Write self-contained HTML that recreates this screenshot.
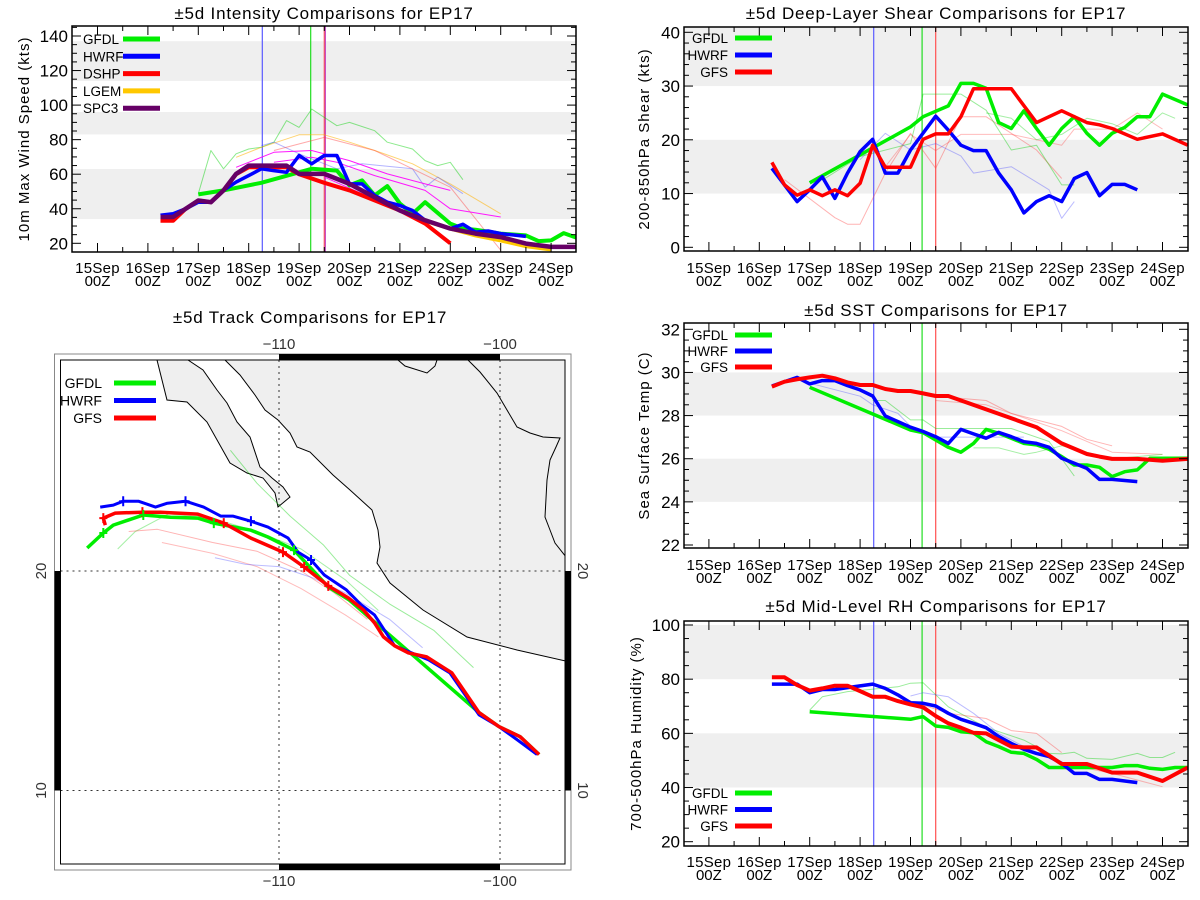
<!DOCTYPE html>
<html><head><meta charset="utf-8"><title>EP17 comparisons</title>
<style>
html,body{margin:0;padding:0;background:#fff;}
svg{display:block;font-family:"Liberation Sans",sans-serif;}
</style></head>
<body>
<svg id="root" width="1200" height="900" viewBox="0 0 1200 900" xmlns="http://www.w3.org/2000/svg">
<rect x="0" y="0" width="1200" height="900" fill="#fff"/>
<g id="gInt"></g>
<g id="gShear"></g>
<g id="gSST"></g>
<g id="gRH"></g>
<g id="gMap"></g>
</svg>
<script>
// ---------- shared axis data ----------
const dayLabels = ["15Sep","16Sep","17Sep","18Sep","19Sep","20Sep","21Sep","22Sep","23Sep","24Sep"];
const initLines = [3.27, 4.23, 4.5];

// ---------- intensity (kt) ----------
const intTicks = [20,40,60,80,100,120,140];
const intBands = [[34,63],[83,96],[114,137]];
const intGFDL = [[2.0,48.3],[2.5,50.6],[3.25,55],[4.25,63.1],[4.75,62.1],[5.0,53.5],[5.25,56.4],[5.5,47.7],[5.75,53.1],[6.0,43],[6.25,37.1],[6.5,43.8],[7.0,31.4],[7.25,28.5],[7.5,27.9],[8.0,25.6],[8.5,24.6],[8.75,21.3],[9.0,21.7],[9.25,25.9],[9.5,23.3]];
const intHWRF = [[1.25,36.2],[1.5,37.1],[1.75,40],[2.0,43.8],[2.25,43.8],[2.5,50.6],[2.75,55.4],[3.0,59.2],[3.25,63.1],[3.5,62.1],[3.75,61.1],[4.0,70.8],[4.25,66],[4.5,70.8],[4.75,70.8],[5.0,54.4],[5.25,54.4],[5.5,47.7],[5.75,43.8],[6.0,41.9],[6.25,39],[6.5,33.3],[7.0,28.5],[7.25,31],[7.5,26.5],[7.75,27.1],[8.0,25.6],[8.5,24]];
const intDSHP = [[1.25,33],[1.5,33],[1.75,40],[2.0,44.8],[2.25,43.8],[2.5,50.6],[2.75,60],[3.0,64],[3.75,64],[4.0,60],[4.5,55],[5.0,50.6],[6.0,39],[6.5,31.4],[7.0,20]];
const intLGEM = [[5.5,47],[6.0,39],[6.5,33],[7.0,28.5],[7.5,24.6],[8.0,21.7],[8.5,18.3],[9.0,16.4]];
const intSPC3 = [[1.25,35.2],[1.5,35.2],[1.75,40],[2.0,44.8],[2.25,43.8],[2.5,50.6],[2.75,60.2],[3.0,65],[3.75,65],[4.0,60.2],[4.5,60.2],[5.0,54.4],[5.5,46.7],[6.0,39],[6.5,33.3],[7.0,28.5],[7.5,25.6],[8.0,23.6],[8.5,19.8],[9.0,17.9],[9.5,17.9]];
const intThinGreen = [[2.0,48.7],[2.25,73.7],[2.5,63.1],[2.75,71.8],[3.0,74.6],[3.25,75.6],[3.5,78.5],[3.75,91],[4.0,87.1],[4.25,97.7],[4.5,92.9],[4.75,88.1],[5.0,90],[5.5,85.2],[5.75,78.5],[6.25,74.6],[6.5,67.9],[6.75,65],[7.0,66.9],[7.25,56.8]];
const intThinYellow = [[2.75,69.8],[3.25,75.6],[4.0,82.8],[4.5,82.8],[5.0,78.5],[5.5,73.7],[6.25,66],[7.0,54.4],[8.0,37.1]];
const intThinMag1 = [[2.75,64],[3.5,72.7],[4.25,73.7],[5.0,67.9],[5.75,60.2],[6.5,54.4],[7.0,50.6]];
const intThinMag2 = [[3.5,66.9],[4.25,69.8],[4.75,66.9],[5.5,59.2],[6.5,50.6],[7.0,40],[8.0,35.2]];
const intThinMag3 = [[4.5,58.3],[5.25,48.7],[6.0,39],[7.0,28.5]];
const intThinBlue = [[3.25,76.5],[3.5,78.5],[4.0,71.8],[4.75,63.1],[5.25,66],[6.25,63.1],[6.5,52.5],[6.75,58.3],[7.25,48.7]];
const intThinPink = [[3.5,73.7],[4.5,81.3],[5.5,73.7],[6.25,63.1],[7.0,52.5],[8.0,16]];

// ---------- shear (kt) ----------
const shTicks = [0,10,20,30,40];
const shBands = [[10,20],[30,45]];
const shGFDL = [[2.0,12],[4.0,22.4],[4.25,24.3],[4.75,26.3],[5.0,30.5],[5.25,30.5],[5.5,29.6],[5.75,23.2],[6.0,22.1],[6.25,25.4],[6.5,22.1],[6.75,19],[7.0,22.1],[7.25,24.3],[7.5,21.2],[7.75,19],[8.0,21.2],[8.25,22.3],[8.5,24.3],[8.75,24.3],[9.0,28.5],[9.5,26.5]];
const shHWRF = [[1.25,14.7],[1.5,11.6],[1.75,8.5],[2.0,10.7],[2.25,13.1],[2.5,9.1],[2.75,13.8],[3.0,17.8],[3.25,20.1],[3.5,13.8],[3.75,13.8],[4.0,18.1],[4.5,24.4],[4.75,21.8],[5.0,19],[5.25,18],[5.5,18],[5.75,13.8],[6.0,10.7],[6.25,6.4],[6.5,8.5],[6.75,9.6],[7.0,8.5],[7.25,12.8],[7.5,13.9],[7.75,9.6],[8.0,11.7],[8.25,11.7],[8.5,10.7]];
const shGFS = [[1.25,15.8],[1.5,11.6],[1.75,9.7],[2.0,10.7],[2.25,9.6],[2.5,10.7],[2.75,9.6],[3.0,11.9],[3.25,19],[3.5,14.9],[3.75,14.9],[4.0,14.9],[4.25,20.1],[4.5,21.1],[4.75,21.1],[5.0,24.3],[5.25,29.5],[5.5,29.5],[5.75,29.5],[6.0,29.5],[6.5,23.2],[7.0,25.4],[7.25,24.3],[7.5,23.2],[7.75,22.8],[8.0,22.1],[8.5,20.1],[9.0,21.1],[9.5,19]];
const shThinPink = [[1.5,12.6],[2.5,5.5],[2.75,4.3],[3.0,4.3],[3.5,13.8],[4.0,21.2],[4.5,14.7],[5.0,24.3],[5.5,24.3],[6.5,18.1],[7.0,12.8]];
const shThinPink2 = [[3.5,15],[4.0,21],[4.5,18],[5.0,21],[6.0,21],[7.0,19],[7.25,22],[8.0,22],[8.5,25],[9.0,22]];
const shThinGreen = [[2.25,12.5],[3.0,16.9],[4.0,19.3],[4.25,28.5],[5.0,28.5],[5.5,25.5],[6.0,18.1],[6.5,19],[7.0,11.6],[7.25,11.6]];
const shThinGreen2 = [[5.5,25],[6.0,24],[6.5,20],[7.0,21],[7.5,24],[8.0,23],[8.5,21],[9.0,25],[9.25,24]];
const shThinBlue = [[3.0,16.3],[3.5,21.2],[4.0,18.1],[4.5,19.3],[5.0,17],[5.25,13.8],[6.0,15],[6.75,10.7],[7.0,5.4],[7.25,8.5]];

// ---------- SST (C) ----------
const sstTicks = [22,24,26,28,30,32];
const sstBands = [[24,26],[28,30]];
const sstGFDL = [[2.0,29.31],[4.0,27.33],[4.25,27.21],[4.5,26.87],[4.75,26.53],[5.0,26.3],[5.25,26.71],[5.5,27.36],[5.75,27.18],[6.0,26.95],[6.25,26.71],[6.5,26.64],[6.75,26.44],[7.0,26.1],[7.25,25.71],[7.5,25.71],[7.75,25.6],[8.0,25.17],[8.25,25.4],[8.5,25.48],[8.75,26.02],[9.0,26.02],[9.5,26.02]];
const sstHWRF = [[1.25,29.37],[1.75,29.77],[2.0,29.47],[2.25,29.62],[2.5,29.62],[2.75,29.39],[3.0,29.19],[3.25,28.91],[3.5,27.98],[3.75,27.72],[4.0,27.46],[4.25,27.26],[4.5,27.02],[4.75,26.71],[5.0,27.36],[5.25,27.15],[5.5,26.95],[5.75,27.22],[6.0,27.02],[6.25,26.79],[6.5,26.71],[6.75,26.53],[7.0,26.02],[7.25,25.79],[7.5,25.55],[7.75,25.04],[8.0,25.04],[8.5,24.94]];
const sstGFS = [[1.25,29.34],[1.5,29.57],[1.75,29.68],[2.0,29.77],[2.25,29.85],[2.5,29.73],[2.75,29.54],[3.0,29.42],[3.25,29.42],[3.5,29.23],[3.75,29.14],[4.0,29.14],[4.25,29.03],[4.5,28.91],[4.75,28.91],[6.5,27.46],[7.0,26.71],[7.5,26.22],[7.75,26.1],[8.0,25.99],[8.5,25.99],[9.0,25.91],[9.5,25.99]];
const sstThinPink = [[4.5,28.9],[5.5,28.7],[6.0,28.1],[7.0,27.5],[7.5,26.9],[8.0,26.6]];
const sstThinPink2 = [[4.5,28.7],[5.5,28.5],[7.0,27.3],[8.0,26.3],[9.0,26.2]];
const sstThinGreen = [[3.25,28.7],[3.5,28.7],[4.0,27.8],[4.25,27.8],[4.5,27.4],[5.0,27.4],[6.0,27.4],[6.75,26.8],[7.25,25.2]];
const sstThinGreen2 = [[5.25,26.5],[5.75,26.5],[6.25,26.2],[6.5,26.3],[7.0,26.6],[8.0,26.0],[9.0,26.2]];
const sstThinBlue = [[2.0,29.5],[2.5,29.2],[3.0,28.9],[3.25,28.5],[3.75,28.1],[4.0,27.5],[4.5,27.0],[5.0,27.0],[6.25,27.0]];

// ---------- RH (%) ----------
const rhTicks = [20,40,60,80,100];
const rhBands = [[40,60],[80,100]];
const rhGFDL = [[2.0,68],[4.0,65.2],[4.25,66.2],[4.5,62.7],[4.75,62.2],[5.0,60.6],[5.25,60.2],[5.5,56.9],[5.75,55.1],[6.0,53],[6.25,52.6],[6.5,50.4],[6.75,47.4],[7.0,47.4],[7.5,47.4],[8.0,47.4],[8.25,48.1],[8.5,48.1],[8.75,47.1],[9.0,46.7],[9.25,47.4],[9.5,47.4]];
const rhHWRF = [[1.25,78.2],[1.75,78.2],[2.0,75],[2.25,76.2],[2.5,76.2],[2.75,76.9],[3.0,77.5],[3.25,78.2],[3.5,76.6],[3.75,74.2],[4.0,71.3],[4.25,71.1],[4.5,70.1],[4.75,67.4],[5.0,65.2],[5.25,63.7],[5.5,62.1],[5.75,58.8],[6.0,56.3],[6.25,54.1],[6.5,52.6],[6.75,51.4],[7.0,48.9],[7.25,45.2],[7.5,45.2],[7.75,43],[8.0,43],[8.5,41.8]];
const rhGFS = [[1.25,80.7],[1.5,80.7],[1.75,77.8],[2.0,75.8],[2.25,76.6],[2.5,77.6],[2.75,77.6],[3.0,75.6],[3.25,73.5],[3.5,73.5],[3.75,71.9],[4.0,70.7],[4.25,69.6],[4.5,66.4],[4.75,63.7],[5.0,62.1],[5.25,60.2],[5.5,60],[5.75,57.5],[6.0,55.1],[6.25,54.8],[6.5,54.8],[6.75,51.8],[7.0,48.7],[7.5,48.7],[7.75,47.1],[8.0,45.5],[8.5,45.5],[9.0,42.4],[9.5,47.4]];
const rhThinGreen = [[2.0,68.6],[2.25,73.5],[2.75,75.4],[3.75,77.2],[4.0,78.5],[4.25,78.7],[4.75,69.8],[5.5,62.2],[6.25,57.5],[6.75,52.6],[7.0,52.4],[7.25,53],[7.5,50.8],[8.0,50.4],[8.5,52.6],[8.75,51.1],[9.0,51.1],[9.25,53]];
const rhThinBlue = [[4.0,73.8],[4.25,75],[4.75,73.5],[5.25,67.4],[5.75,60],[6.25,55.1]];
const rhThinPink = [[3.75,73.5],[4.75,67.4],[5.5,65.5],[6.0,61],[6.5,60],[7.0,52.9]];
const rhThinPink2 = [[7.0,48.9],[8.0,45.2],[9.0,40.3]];

// ---------- track (lon, lat) ----------
const trkGFDL = [[-118.68,21.05],[-117.95,21.73],[-117.5,22.09],[-116.14,22.55],[-114.91,22.45],[-113.68,22.41],[-112.95,22.18],[-111.27,21.86],[-110.5,21.55],[-109.32,20.95],[-107.77,19.27],[-106.82,18.68],[-100.95,13.55],[-100.05,12.91],[-99.09,12.45],[-98.23,11.64]];
const trkHWRF = [[-118.09,22.91],[-117.5,23.0],[-117.05,23.18],[-116.36,23.18],[-115.59,22.91],[-115.05,23.09],[-114.23,23.18],[-113.41,22.91],[-112.64,22.5],[-112.09,22.5],[-111.27,22.27],[-110.5,22.0],[-109.59,21.5],[-109.14,20.86],[-108.55,20.5],[-107.95,19.82],[-106.95,19.14],[-106.27,18.45],[-105.68,18.0],[-104.77,16.59],[-104.0,16.27],[-103.23,15.95],[-102.27,15.36],[-100.95,13.45],[-100.05,12.91],[-99.23,12.32],[-98.32,11.64]];
const trkGFS = [[-117.86,22.09],[-117.95,22.41],[-117.41,22.64],[-116.18,22.68],[-115.36,22.68],[-113.68,22.59],[-112.5,22.18],[-111.27,21.5],[-109.82,20.86],[-108.86,20.18],[-107.77,19.32],[-106.86,18.77],[-106.18,18.23],[-105.68,17.64],[-105.27,17.0],[-104.77,16.59],[-104.14,16.27],[-103.32,16.09],[-102.18,15.36],[-100.95,13.55],[-100.05,12.91],[-99.09,12.45],[-98.23,11.64]];
const trkThinGreen = [[-112.2,25.5],[-111.0,24.0],[-109.5,22.5],[-108.0,21.2],[-106.8,19.8],[-105.0,18.5],[-103.0,17.3],[-101.2,15.6]];
const trkThinGreen2 = [[-117.3,21.0],[-116.5,21.8],[-115.0,22.6],[-113.0,22.4],[-111.0,21.8],[-109.0,21.0],[-107.0,19.6],[-105.5,18.2]];
const trkThinPink = [[-116.8,21.8],[-115.5,21.9],[-113.0,21.3],[-111.0,20.9],[-109.0,20.0],[-107.5,19.0],[-106.0,17.8]];
const trkThinPink2 = [[-115.3,21.3],[-113.0,20.8],[-111.0,20.2],[-109.0,19.2],[-107.0,18.0],[-105.5,17.0]];
const trkThinBlue = [[-112.9,20.6],[-111.5,20.3],[-110.0,20.2],[-108.5,19.7],[-107.0,19.0],[-105.0,17.8],[-103.5,16.5]];

// ---------- helpers ----------
const NS = "http://www.w3.org/2000/svg";
function mk(parent, tag, attrs){
  const e = document.createElementNS(NS, tag);
  for (const k in attrs) e.setAttribute(k, attrs[k]);
  parent.appendChild(e);
  return e;
}
let clipId = 0;

function drawPanel(g, cfg){
  const xs = d => cfg.x0 + d*50.4;
  const k = (cfg.yB - cfg.yA)/(cfg.vB - cfg.vA);
  const ys = v => cfg.yA + (v - cfg.vA)*k;
  const L=cfg.left, R=cfg.right, T=cfg.top, B=cfg.bottom;
  const t = mk(g,'text',{x:(L+R)/2, y:cfg.titleY, 'text-anchor':'middle','font-size':17,'letter-spacing':'0.8',fill:'#000'});
  t.textContent = cfg.title;
  
  
  const cid = 'clip'+(clipId++);
  const cp = mk(g,'clipPath',{id:cid});
  mk(cp,'rect',{x:L,y:T,width:R-L,height:B-T});
  cfg.bands.forEach((b,i)=>{
    const y1 = Math.max(T, ys(b[1])), y2 = Math.min(B, ys(b[0]));
    const r = mk(g,'rect',{x:L,y:y1,width:R-L,height:y2-y1,fill:'#efefef'});
    
    
  });
  const plot = mk(g,'g',{'clip-path':'url(#'+cid+')'});
  const vcols = ['#5a5aff','#22dd22','#ff5050'];
  initLines.forEach((d,i)=>{
    const l = mk(plot,'line',{x1:xs(d),x2:xs(d),y1:T,y2:B,stroke:vcols[i],'stroke-width':1.2});
    
    
  });
  if (cfg.extraVline){
    const l = mk(plot,'line',{x1:xs(cfg.extraVline),x2:xs(cfg.extraVline),y1:T,y2:B,stroke:'#c040c0','stroke-width':1.2});
    
    
  }
  cfg.series.forEach(s=>{
    const pts = s.data.map(p=>xs(p[0]).toFixed(1)+','+ys(p[1]).toFixed(1)).join(' ');
    const pl = mk(plot,'polyline',{points:pts,fill:'none',stroke:s.color,'stroke-width':s.w,'stroke-opacity':s.op||1,'stroke-linejoin':'round','stroke-linecap':'butt'});
    
    
  });
  const fr = mk(g,'rect',{x:L,y:T,width:R-L,height:B-T,fill:'none',stroke:'#000','stroke-width':1.5});
  
  
  for (let h=-0.5; h<=9.5001; h+=0.5){
    const x = xs(h);
    if (x < L+0.5 || x > R-0.5) continue;
    const major = Math.abs(h-Math.round(h))<1e-6;
    const len = major ? 9 : 5;
    mk(g,'line',{x1:x,x2:x,y1:B,y2:B-len,stroke:'#000','stroke-width':1});
    mk(g,'line',{x1:x,x2:x,y1:T,y2:T+len,stroke:'#000','stroke-width':1});
  }
  dayLabels.forEach((lab,i)=>{
    const x = xs(i);
    const a = mk(g,'text',{x:x,y:cfg.labY,'text-anchor':'middle','font-size':15,'letter-spacing':'0.3',fill:'#000'});
    a.textContent = lab;
    
    
    const b = mk(g,'text',{x:x,y:cfg.labY+13,'text-anchor':'middle','font-size':15,fill:'#000'});
    b.textContent = '00Z';
    
    
  });
  for (let v=cfg.minorStart; v<=cfg.vmax+1e-6; v+=cfg.minor){
    const y = ys(v);
    if (y < T+0.5 || y > B-0.5) continue;
    const major = cfg.ticks.some(tv=>Math.abs(tv-v)<1e-6);
    const len = major ? 9 : 5;
    mk(g,'line',{x1:L,x2:L+len,y1:y,y2:y,stroke:'#000','stroke-width':1});
    mk(g,'line',{x1:R,x2:R-len,y1:y,y2:y,stroke:'#000','stroke-width':1});
  }
  cfg.ticks.forEach(v=>{
    const a = mk(g,'text',{x:L-4,y:ys(v)+6,'text-anchor':'end','font-size':17,fill:'#000'});
    a.textContent = String(v);
    
    
  });
  const yt = mk(g,'text',{x:0,y:0,'text-anchor':'middle','font-size':15,'letter-spacing':'1',fill:'#000',transform:'translate('+cfg.ytX+','+((T+B)/2)+') rotate(-90)'});
  yt.textContent = cfg.ytitle;
  
  
  cfg.legend.forEach((e,i)=>{
    const y = cfg.legY + i*cfg.legDy;
    const tx = mk(g,'text',{x:cfg.legTx,y:y+5,'text-anchor':cfg.legAnchor,'font-size':13.5,fill:'#000'});
    tx.textContent = e[0];
    
    
    const ln = mk(g,'line',{x1:cfg.legX1,x2:cfg.legX2,y1:y,y2:y,stroke:e[1],'stroke-width':5});
    
    
  });
}

const G='#00ee00', B_='#0000ff', R_='#ff0000', Y_='#ffc800', P_='#660066', M_='#ff00ff';

drawPanel(document.getElementById('gInt'),{
  key:'intensity', title:'±5d Intensity Comparisons for EP17', titleY:19,
  left:72,right:576,top:26,bottom:252,x0:97.5,
  vA:140,yA:36,vB:20,yB:243.3, vmax:145, minorStart:15, minor:5, ticks:intTicks, bands:intBands,
  labY:273, ytX:29, ytitle:'10m Max Wind Speed (kts)', extraVline:4.52,
  legY:39, legDy:17.3, legTx:83, legAnchor:'start', legX1:123, legX2:160,
  legend:[['GFDL',G],['HWRF',B_],['DSHP',R_],['LGEM',Y_],['SPC3',P_]],
  series:[
    {name:'intensity-thin-green',data:intThinGreen,color:'#00d000',w:1,op:0.45},
    {name:'intensity-thin-yellow',data:intThinYellow,color:'#ffb000',w:1,op:0.55},
    {name:'intensity-thin-blue',data:intThinBlue,color:'#4040ff',w:1,op:0.4},
    {name:'intensity-thin-pink',data:intThinPink,color:'#ff4040',w:1,op:0.45},
    {name:'intensity-thin-magenta-1',data:intThinMag1,color:M_,w:1,op:0.9},
    {name:'intensity-thin-magenta-2',data:intThinMag2,color:M_,w:1,op:0.9},
    {name:'intensity-thin-magenta-3',data:intThinMag3,color:M_,w:1,op:0.9},
    {name:'intensity-gfdl-line',data:intGFDL,color:G,w:4},
    {name:'intensity-lgem-line',data:intLGEM,color:Y_,w:4},
    {name:'intensity-dshp-line',data:intDSHP,color:R_,w:4},
    {name:'intensity-hwrf-line',data:intHWRF,color:B_,w:3.5},
    {name:'intensity-spc3-line',data:intSPC3,color:P_,w:4.5}
  ]
});

drawPanel(document.getElementById('gShear'),{
  key:'shear', title:'±5d Deep-Layer Shear Comparisons for EP17', titleY:19,
  left:684,right:1188,top:27,bottom:251,x0:708.9,
  vA:40,yA:32.3,vB:0,yB:247.3, vmax:41, minorStart:0, minor:2, ticks:shTicks, bands:shBands,
  labY:273, ytX:649, ytitle:'200-850hPa Shear (kts)',
  legY:38, legDy:17, legTx:728, legAnchor:'end', legX1:735, legX2:772,
  legend:[['GFDL',G],['HWRF',B_],['GFS',R_]],
  series:[
    {name:'shear-thin-pink',data:shThinPink,color:'#ff4040',w:1,op:0.4},
    {name:'shear-thin-pink-2',data:shThinPink2,color:'#ff4040',w:1,op:0.35},
    {name:'shear-thin-green',data:shThinGreen,color:'#00d000',w:1,op:0.4},
    {name:'shear-thin-green-2',data:shThinGreen2,color:'#00d000',w:1,op:0.35},
    {name:'shear-thin-blue',data:shThinBlue,color:'#4040ff',w:1,op:0.35},
    {name:'shear-gfdl-line',data:shGFDL,color:G,w:3.5},
    {name:'shear-hwrf-line',data:shHWRF,color:B_,w:3.5},
    {name:'shear-gfs-line',data:shGFS,color:R_,w:3.5}
  ]
});

drawPanel(document.getElementById('gSST'),{
  key:'sst', title:'±5d SST Comparisons for EP17', titleY:316,
  left:684,right:1188,top:323,bottom:548,x0:708.9,
  vA:32,yA:329.3,vB:22,yB:545, vmax:32.3, minorStart:22, minor:0.5, ticks:sstTicks, bands:sstBands,
  labY:570, ytX:649, ytitle:'Sea Surface Temp (C)',
  legY:335, legDy:16, legTx:728, legAnchor:'end', legX1:735, legX2:772,
  legend:[['GFDL',G],['HWRF',B_],['GFS',R_]],
  series:[
    {name:'sst-thin-pink',data:sstThinPink,color:'#ff4040',w:1,op:0.4},
    {name:'sst-thin-pink-2',data:sstThinPink2,color:'#ff4040',w:1,op:0.35},
    {name:'sst-thin-green',data:sstThinGreen,color:'#00d000',w:1,op:0.4},
    {name:'sst-thin-green-2',data:sstThinGreen2,color:'#00d000',w:1,op:0.35},
    {name:'sst-thin-blue',data:sstThinBlue,color:'#4040ff',w:1,op:0.35},
    {name:'sst-gfdl-line',data:sstGFDL,color:G,w:3.5},
    {name:'sst-hwrf-line',data:sstHWRF,color:B_,w:3.5},
    {name:'sst-gfs-line',data:sstGFS,color:R_,w:4}
  ]
});

drawPanel(document.getElementById('gRH'),{
  key:'rh', title:'±5d Mid-Level RH Comparisons for EP17', titleY:612,
  left:684,right:1188,top:621,bottom:846,x0:708.9,
  vA:100,yA:625,vB:20,yB:841.7, vmax:101, minorStart:20, minor:5, ticks:rhTicks, bands:rhBands,
  labY:867, ytX:641, ytitle:'700-500hPa Humidity (%)',
  legY:793, legDy:16.5, legTx:728, legAnchor:'end', legX1:735, legX2:772,
  legend:[['GFDL',G],['HWRF',B_],['GFS',R_]],
  series:[
    {name:'rh-thin-green',data:rhThinGreen,color:'#00d000',w:1,op:0.4},
    {name:'rh-thin-blue',data:rhThinBlue,color:'#4040ff',w:1,op:0.35},
    {name:'rh-thin-pink',data:rhThinPink,color:'#ff4040',w:1,op:0.4},
    {name:'rh-thin-pink-2',data:rhThinPink2,color:'#ff4040',w:1,op:0.35},
    {name:'rh-gfdl-line',data:rhGFDL,color:G,w:3.5},
    {name:'rh-hwrf-line',data:rhHWRF,color:B_,w:3.5},
    {name:'rh-gfs-line',data:rhGFS,color:R_,w:4}
  ]
});

// ---------- track map ----------
(function(){
  const g = document.getElementById('gMap');
  const L=60.5,R=565,T=360,B=864;
  const lx = lon => 279 + (lon+110)*22.1;
  const ly = lat => 571 - (lat-20)*21.95;
  const t = mk(g,'text',{x:310,y:323,'text-anchor':'middle','font-size':17,'letter-spacing':'0.8',fill:'#000'});
  t.textContent = '±5d Track Comparisons for EP17';
  
  
  const cp = mk(g,'clipPath',{id:'mapclip'});
  mk(cp,'rect',{x:L,y:T,width:R-L,height:B-T});
  const m = mk(g,'g',{'clip-path':'url(#mapclip)'});
  const land = mk(m,'rect',{x:L,y:T,width:R-L,height:B-T,fill:'#efefef'});
  
  
  const bajaWest = "157,360 167,400 187,402 207,422 230,463 247,473 263,478 275,493 278,507";
  const bajaEast = "290,497 283,487 272,478 260,467 250,437 237,422 227,403 217,390 203,370 188,360";
  const mainCoast = "225,360 240,375 255,395 265,410 278,420 290,433 297,447 310,452 333,475 350,490 372,510 378,530 380,547 377,563 390,583 423,610 467,637 517,650 570,662";
  const pacific = "50,350 157,350 " + bajaWest + " " + bajaEast + " 188,350 225,350 " + mainCoast + " 575,875 50,875";
  const pw = mk(m,'polygon',{points:pacific,fill:'#ffffff',stroke:'none'});
  
  
  [bajaWest+" "+bajaEast, mainCoast,
   "468,360 480,372 497,393 507,410 517,427 530,433 543,437 560,438 556,447 550,460 547,480 545,517 550,530 555,543 566,557",
   "398,360 405,366 427,373 435,366 437,360"].forEach(s=>{
    const c = mk(m,'polyline',{points:s,fill:'none',stroke:'#000','stroke-width':1});
    
    
  });
  [-110,-100].forEach(lon=>{ mk(m,'line',{x1:lx(lon),x2:lx(lon),y1:T,y2:B,stroke:'#333','stroke-width':1,'stroke-dasharray':'2,4'}); });
  [20,10].forEach(lat=>{ mk(m,'line',{x1:L,x2:R,y1:ly(lat),y2:ly(lat),stroke:'#333','stroke-width':1,'stroke-dasharray':'2,4'}); });
  const tracks = [
    ['track-thin-green',trkThinGreen,'#00d000',1,0.4],
    ['track-thin-green-2',trkThinGreen2,'#00d000',1,0.35],
    ['track-thin-pink',trkThinPink,'#ff4040',1,0.4],
    ['track-thin-pink-2',trkThinPink2,'#ff4040',1,0.35],
    ['track-thin-blue',trkThinBlue,'#4040ff',1,0.35],
    ['track-gfdl-line',trkGFDL,G,3.5,1],
    ['track-hwrf-line',trkHWRF,B_,3,1],
    ['track-gfs-line',trkGFS,R_,3.5,1]
  ];
  tracks.forEach(tr=>{
    const pts = tr[1].map(p=>lx(p[0]).toFixed(1)+','+ly(p[1]).toFixed(1)).join(' ');
    const pl = mk(m,'polyline',{points:pts,fill:'none',stroke:tr[2],'stroke-width':tr[3],'stroke-opacity':tr[4],'stroke-linejoin':'round'});
    
    
  });
  [[trkHWRF,B_,[2,6,10,14]],[trkGFS,R_,[1,3,6,8,9,10]],[trkGFDL,G,[1,3,6,9]]].forEach(s=>{
    s[2].forEach(i=>{
      const p = s[0][i]; if(!p) return;
      const x = lx(p[0]), y = ly(p[1]);
      const pm = mk(m,'path',{d:'M'+(x-4)+','+y+'h8M'+x+','+(y-5)+'v10',stroke:s[1],'stroke-width':2,fill:'none'});
      
      
    });
  });
  mk(g,'rect',{x:54.5,y:354,width:516.5,height:516,fill:'none',stroke:'#888','stroke-width':1});
  const fr = mk(g,'rect',{x:L,y:T,width:R-L,height:B-T,fill:'none',stroke:'#000','stroke-width':1});
  
  
  mk(g,'rect',{x:lx(-110),y:354,width:lx(-100)-lx(-110),height:6,fill:'#000'});
  mk(g,'rect',{x:lx(-110),y:864,width:lx(-100)-lx(-110),height:6,fill:'#000'});
  mk(g,'rect',{x:54.5,y:ly(20),width:6,height:ly(10)-ly(20),fill:'#000'});
  mk(g,'rect',{x:565,y:ly(20),width:6,height:ly(10)-ly(20),fill:'#000'});
  [-110,-100].forEach(lon=>{
    const a = mk(g,'text',{x:lx(lon),y:349,'text-anchor':'middle','font-size':15,fill:'#333'});
    a.textContent = '\u2212'+Math.abs(lon);
    
    
    const b = mk(g,'text',{x:lx(lon),y:886,'text-anchor':'middle','font-size':15,fill:'#333'});
    b.textContent = '\u2212'+Math.abs(lon);
    
    
  });
  [20,10].forEach(lat=>{
    const a = mk(g,'text',{x:0,y:0,'text-anchor':'middle','font-size':15,fill:'#333',transform:'translate(46,'+ly(lat)+') rotate(-90)'});
    a.textContent = String(lat);
    
    
    const b = mk(g,'text',{x:0,y:0,'text-anchor':'middle','font-size':15,fill:'#333',transform:'translate(578,'+ly(lat)+') rotate(90)'});
    b.textContent = String(lat);
    
    
  });
  [['GFDL',G],['HWRF',B_],['GFS',R_]].forEach((e,i)=>{
    const y = 383 + i*17.5;
    const tx = mk(g,'text',{x:102,y:y+5,'text-anchor':'end','font-size':14,fill:'#000'});
    tx.textContent = e[0];
    
    
    const ln = mk(g,'line',{x1:114,x2:156,y1:y,y2:y,stroke:e[1],'stroke-width':5});
    
    
  });
})();
</script>
</body></html>
